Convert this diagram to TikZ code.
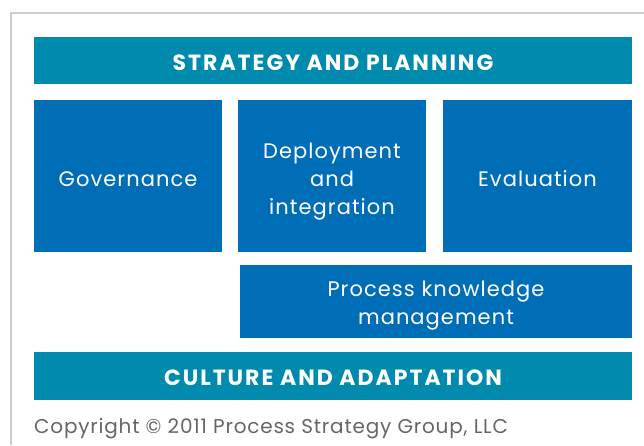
\documentclass[tikz,border=0pt]{standalone}
\usepackage{fontspec}
\setmainfont{Poppins}
\usepackage{xcolor}
\definecolor{tealbar}{RGB}{0,138,173}
\definecolor{bluebox}{RGB}{0,110,183}
\definecolor{framegray}{RGB}{204,204,204}
\definecolor{notegray}{RGB}{102,102,102}
\newcommand{\topstrut}[1]{\rule{0pt}{#1}}

\begin{document}
\begin{tikzpicture}[x=1pt,y=-1pt,
    bar/.style={fill=tealbar,text=white,
      font=\fontsize{22}{26}\selectfont\bfseries\addfontfeature{LetterSpace=9},
      minimum width=598pt,minimum height=47pt,inner sep=0pt,
      text height=19pt,text depth=0pt},
    block/.style={fill=bluebox,text=white,
      font=\fontsize{21}{28}\selectfont\addfontfeature{LetterSpace=5},
      align=center,minimum height=152pt,inner sep=0pt},
    oneline/.style={text height=20pt,text depth=0pt}]
  \useasboundingbox (0,0) rectangle (644,445);
  \draw[framegray,line width=1.2pt] (11,445) |- (644,13);
  \node[bar] (strat) at (333,60.5) {STRATEGY AND PLANNING};
  \node[block,oneline,minimum width=188pt] (gov) at (128,176) {Governance};
  \node[block,minimum width=188pt] (deploy) at (332,176) {\topstrut{27pt}Deployment\\and\\integration};
  \node[block,oneline,minimum width=189pt] (eval) at (537.5,176) {Evaluation};
  \node[block,minimum width=392pt,minimum height=73pt] (pkm) at (436,301.5) {\topstrut{24pt}Process knowledge\\management};
  \node[bar,minimum height=48pt] (culture) at (333,376) {CULTURE AND ADAPTATION};
  \node[anchor=west,text=notegray,inner sep=0pt,
    font=\fontsize{20}{24}\selectfont\addfontfeature{LetterSpace=4}] (copy) at (34,429) {Copyright © 2011 Process Strategy Group, LLC};
\end{tikzpicture}
\end{document}
